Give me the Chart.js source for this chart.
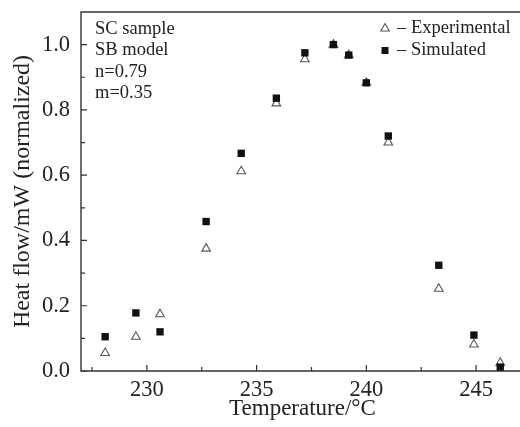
<!DOCTYPE html>
<html>
<head>
<meta charset="utf-8">
<script src="https://cdn.jsdelivr.net/npm/chart.js@4.4.1/dist/chart.umd.min.js"></script>
<style>
  html, body { margin: 0; padding: 0; background: #fff; }
  #wrap { width: 520px; height: 427px; }
</style>
</head>
<body>
<div id="wrap"><canvas id="c" width="520" height="427"></canvas></div>
<script>
// ---- data ----
const temperatures = [228.1, 229.5, 230.6, 232.7, 234.3, 235.9, 237.2, 238.5, 239.2, 240.0, 241.0, 243.3, 244.9, 246.1];
const experimental = [0.055, 0.105, 0.174, 0.375, 0.612, 0.82, 0.955, 1.0, 0.968, 0.883, 0.70, 0.252, 0.081, 0.025];
const simulated    = [0.105, 0.178, 0.12, 0.458, 0.667, 0.836, 0.975, 1.0, 0.968, 0.883, 0.72, 0.324, 0.11, 0.012];
const xMajorTicks = [230, 235, 240, 245];
const xMinorTicks = [227.5, 232.5, 237.5, 242.5];
const yMajorTicks = [0, 0.2, 0.4, 0.6, 0.8, 1.0];
const yMinorTicks = [0.1, 0.3, 0.5, 0.7, 0.9];
const annotationLines = ["SC sample", "SB model", "n=0.79", "m=0.35"];
const xTitle = "Temperature/°C";
const yTitle = "Heat flow/mW (normalized)";
const seriesNames = ["Experimental", "Simulated"];

const SERIF = '"Liberation Serif", "DejaVu Serif", serif';
const INK = '#222';

const toPts = (ys) => temperatures.map((t, i) => ({ x: t, y: ys[i] }));

const decor = {
  id: 'decor',
  beforeDatasetsDraw(chart) {
    const { ctx, chartArea: a, scales: { x, y } } = chart;
    ctx.save();
    ctx.strokeStyle = '#333';
    ctx.lineWidth = 1.4;
    ctx.beginPath();
    ctx.moveTo(a.right + 2, a.top); ctx.lineTo(a.left, a.top);
    ctx.lineTo(a.left, a.bottom); ctx.lineTo(a.right + 2, a.bottom);
    ctx.stroke();
    ctx.lineWidth = 1.2;
    ctx.beginPath();
    xMajorTicks.forEach(v => { const p = x.getPixelForValue(v); ctx.moveTo(p, a.bottom); ctx.lineTo(p, a.bottom - 6); });
    xMinorTicks.forEach(v => { const p = x.getPixelForValue(v); ctx.moveTo(p, a.bottom); ctx.lineTo(p, a.bottom - 4); });
    yMajorTicks.forEach(v => { const p = y.getPixelForValue(v); ctx.moveTo(a.left, p); ctx.lineTo(a.left + 6, p); });
    yMinorTicks.forEach(v => { const p = y.getPixelForValue(v); ctx.moveTo(a.left, p); ctx.lineTo(a.left + 4, p); });
    ctx.stroke();

    // axis titles
    ctx.fillStyle = INK;
    ctx.font = '23px ' + SERIF;
    ctx.textAlign = 'center';
    ctx.textBaseline = 'middle';
    ctx.fillText(xTitle, (a.left + a.right) / 2 + 2, 409);
    ctx.save();
    ctx.translate(23, (a.top + a.bottom) / 2);
    ctx.rotate(-Math.PI / 2);
    ctx.font = '24px ' + SERIF;
    ctx.fillText(yTitle, 0, 0);
    ctx.restore();

    // annotation
    ctx.font = '18.5px ' + SERIF;
    ctx.textAlign = 'left';
    ctx.textBaseline = 'middle';
    annotationLines.forEach((s, i) => ctx.fillText(s, a.left + 14, a.top + 17 + i * 21.5));

    // legend
    const lx = 385, ly0 = 28, ldy = 22.5;
    ctx.strokeStyle = '#555';
    ctx.lineWidth = 1.1;
    ctx.beginPath();
    ctx.moveTo(lx, ly0 - 4.5); ctx.lineTo(lx + 4.3, ly0 + 3); ctx.lineTo(lx - 4.3, ly0 + 3); ctx.closePath();
    ctx.stroke();
    ctx.fillStyle = '#111';
    ctx.fillRect(lx - 3.5, ly0 + ldy - 3.5, 7, 7);
    ctx.fillStyle = INK;
    ctx.fillText('– ' + seriesNames[0], lx + 12, ly0);
    ctx.fillText('– ' + seriesNames[1], lx + 12, ly0 + ldy);
    ctx.restore();
  }
};

new Chart(document.getElementById('c'), {
  type: 'scatter',
  data: {
    datasets: [
      {
        label: seriesNames[1],
        data: toPts(simulated),
        pointStyle: 'rect',
        pointRadius: 5.2,
        pointHoverRadius: 5.2,
        backgroundColor: '#111',
        borderColor: '#111',
        borderWidth: 0,
        clip: false
      },
      {
        label: seriesNames[0],
        data: toPts(experimental),
        pointStyle: 'triangle',
        pointRadius: 5,
        pointHoverRadius: 5,
        backgroundColor: 'rgba(255,255,255,0)',
        borderColor: '#555',
        borderWidth: 1.1,
        clip: false
      }
    ]
  },
  options: {
    responsive: false,
    devicePixelRatio: 1,
    animation: false,
    layout: { autoPadding: false, padding: { top: 12, right: 0, left: 0, bottom: 0 } },
    plugins: { legend: { display: false }, tooltip: { enabled: false } },
    scales: {
      x: {
        type: 'linear',
        min: 227, max: 247,
        afterBuildTicks: (s) => { s.ticks = xMajorTicks.map(v => ({ value: v })); },
        afterFit: (s) => { s.height = 56; s.paddingLeft = 0; s.paddingRight = 0; },
        grid: { display: false, drawTicks: false },
        border: { display: false },
        ticks: {
          color: INK,
          font: { family: SERIF, size: 22.5 },
          padding: 6,
          maxRotation: 0,
          callback: (v) => String(v)
        }
      },
      y: {
        type: 'linear',
        min: 0, max: 1.1,
        afterBuildTicks: (s) => { s.ticks = yMajorTicks.map(v => ({ value: v })); },
        afterFit: (s) => { s.width = 81; s.paddingTop = 0; s.paddingBottom = 0; },
        grid: { display: false, drawTicks: false },
        border: { display: false },
        ticks: {
          color: INK,
          font: { family: SERIF, size: 22.5 },
          padding: 11,
          callback: (v) => Number(v).toFixed(1)
        }
      }
    }
  },
  plugins: [decor]
});
</script>
</body>
</html>
